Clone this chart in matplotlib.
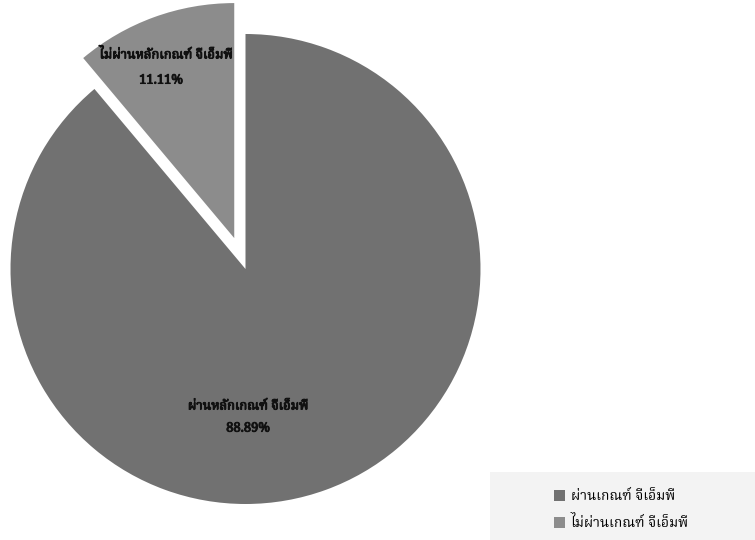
import matplotlib
matplotlib.use('Agg')
import matplotlib.pyplot as plt
import matplotlib.patches as mpatches
import matplotlib.patheffects as pe

# shares of the two groups (percent)
labels = ['ผ่านหลักเกณฑ์ จีเอ็มพี', 'ไม่ผ่านหลักเกณฑ์ จีเอ็มพี']
legend_labels = ['ผ่านเกณฑ์ จีเอ็มพี', 'ไม่ผ่านเกณฑ์ จีเอ็มพี']
values = [88.89, 11.11]
colors = ['#717171', '#8c8c8c']

plt.rcParams['font.family'] = ['Noto Serif Thai', 'Noto Sans Thai', 'DejaVu Serif']

fig = plt.figure(figsize=(7.55, 5.40), dpi=100)
ax = fig.add_axes([10.5/755, 36/540, 470/755, 470/540])

wedges, _ = ax.pie(values, colors=colors, startangle=90, counterclock=False,
                   explode=[0, 0.14], radius=1,
                   wedgeprops=dict(linewidth=0))
for w in wedges:
    w.set_clip_on(False)
ax.set_xlim(-1, 1)
ax.set_ylim(-1, 1)
ax.set_aspect('equal')
ax.axis('off')

# data labels (no bold Thai face installed, so thicken with a stroke)
lbl = dict(ha='center', va='center', fontsize=9.3, color='#111111',
           path_effects=[pe.withStroke(linewidth=0.7, foreground='#111111')])
ax.text(0.011, -0.583, labels[0], **lbl)
ax.text(0.011, -0.677, '%.2f%%' % values[0], **lbl)
ax.text(-0.338, 0.911, labels[1], **lbl)
ax.text(-0.36, 0.804, '%.2f%%' % values[1], **lbl)

# legend in a light box at the bottom right
box = mpatches.Rectangle((490/755, 0), 265/755, 68/540, transform=fig.transFigure,
                         facecolor='#f3f3f3', edgecolor='none')
fig.patches.append(box)
handles = [mpatches.Patch(facecolor=c, edgecolor='none') for c in colors]
fig.legend(handles, legend_labels, loc='center left', bbox_to_anchor=(541/755, 30/540),
           frameon=False, fontsize=10, handlelength=0.85, handleheight=0.85,
           handletextpad=0.4, labelspacing=0.85)

fig.savefig('out.png', dpi=100)
